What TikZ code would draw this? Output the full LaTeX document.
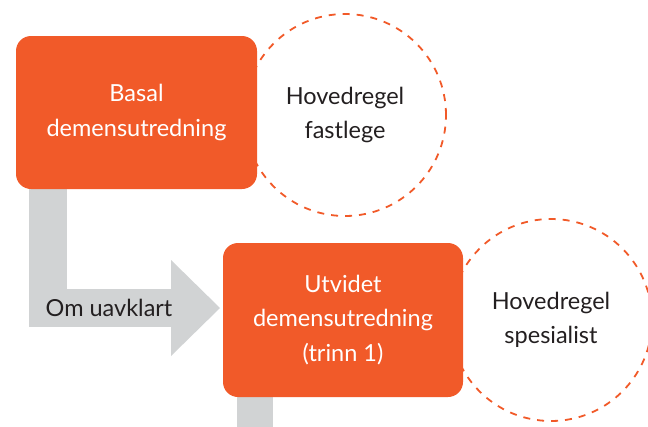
\documentclass[tikz,border=0pt]{standalone}
\usepackage{fontspec}
\setmainfont{Lato}
\definecolor{boxorange}{RGB}{241,90,41}
\definecolor{arrowgrey}{RGB}{209,211,212}
\definecolor{darktext}{RGB}{35,31,32}
\tikzset{
  stepbox/.style={rectangle, rounded corners=15pt, fill=boxorange, text=white,
    minimum width=241pt, minimum height=153pt, align=center, inner sep=0pt,
    font=\fontsize{23.5}{34.5}\selectfont},
  rulecircle/.style={circle, draw=boxorange, dash pattern=on 7pt off 7pt, line width=1.8pt,
    minimum size=202pt, inner sep=0pt, text=darktext, align=center,
    font=\fontsize{23.5}{34}\selectfont},
  greybar/.style={draw=arrowgrey, line width=38pt},
  labeltext/.style={text=darktext, inner sep=0pt, font=\fontsize{23.5}{26}\selectfont}
}
\begin{document}
\begin{tikzpicture}[x=1pt,y=-1pt]
\useasboundingbox (0,0) rectangle (648,426);
% circles (behind boxes)
\node[rulecircle] (c1) at (345,115) {Hovedregel\\fastlege};
\node[rulecircle] (c2) at (551,320) {Hovedregel\\spesialist};
% grey arrow
\coordinate (a0) at (48,170);
\coordinate (hb) at (172,308);
\coordinate (tip) at (220,308);
\draw[greybar, line join=miter] (a0) |- (hb);
\fill[arrowgrey] (tip) -- (171,260) -- (171,356) -- cycle;
\coordinate (b0) at (255,380);
\coordinate (b1) at (255,432);
\draw[greybar, line width=36pt] (b0) -- (b1);
% boxes
\node[stepbox] (box1) at (136.5,112.5) {Basal\\demensutredning};
\node[stepbox, minimum width=240pt, minimum height=154pt] (box2) at (343,320) {Utvidet\\demensutredning\\(trinn 1)};
\node[labeltext] (lbl) at (109,308) {Om uavklart};
\end{tikzpicture}
\end{document}
